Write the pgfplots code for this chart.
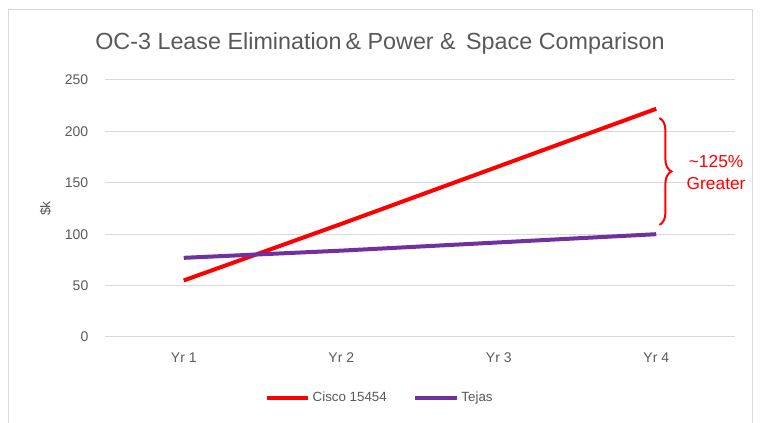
\documentclass[border=0pt]{standalone}
\usepackage{fontspec}
\setmainfont{Liberation Sans}
\usepackage{pgfplots}
\pgfplotsset{compat=1.18}
\usetikzlibrary{decorations.pathreplacing}
\definecolor{cisco}{HTML}{FF0000}
\definecolor{tejas}{HTML}{7030A0}
\definecolor{gridc}{HTML}{D9D9D9}
\definecolor{txt}{HTML}{595959}
\begin{document}
\begin{tikzpicture}
\path[use as bounding box] (0,0) rectangle (570pt,317.25pt);
\draw[gridc, line width=0.75pt] (6pt,-1pt) -- (6pt,309.75pt) -- (564pt,309.75pt) -- (564pt,-1pt);
\node[txt, font=\fontsize{17.5}{20}\selectfont] at (285pt,284.5pt) {OC-3 Lease Elimination\,\& Power \&\, Space Comparison};
\begin{axis}[
  at={(78.75pt,64.5pt)}, anchor=south west,
  scale only axis, width=472.5pt, height=192.75pt,
  xmin=0.5, xmax=4.5, ymin=0, ymax=250,
  xtick={1,2,3,4}, xticklabels={Yr 1,Yr 2,Yr 3,Yr 4},
  ytick={0,50,100,150,200,250},
  axis line style={draw=none},
  major tick style={draw=none},
  ymajorgrids, grid style={gridc, line width=0.75pt},
  tick label style={txt, font=\fontsize{10.5}{12}\selectfont},
  /pgf/number format/assume math mode=true,
  xticklabel style={yshift=-8pt},
  yticklabel style={xshift=-9pt},
  ylabel={\$k},
  ylabel style={txt, font=\fontsize{10.5}{12}\selectfont, at={(axis description cs:-0.094,0.5)}, anchor=center, rotate=0},
  clip=false,
  legend columns=2,
  legend style={draw=none, at={(axis description cs:0.4365,-0.237)}, anchor=center,
    font=\fontsize{10}{12}\selectfont, text=txt, /tikz/every even column/.append style={column sep=18pt}},
  legend image code/.code={\draw[#1] (0pt,0pt) -- (31pt,0pt);},
]
\addplot[cisco, line width=3pt] coordinates {(1,55) (2,110) (3,166) (4,222)};
\addlegendentry{Cisco 15454}
\addplot[tejas, line width=3pt] coordinates {(1,77) (2,84) (3,92) (4,100)};
\addlegendentry{Tejas}
\draw[cisco, line width=1.5pt, decorate, decoration={brace, amplitude=9pt}] (axis cs:4.02,213) -- (axis cs:4.02,109);
\node[cisco, font=\fontsize{13}{16}\selectfont, align=center] at (axis cs:4.38,160) {\textasciitilde125\%\\Greater};
\end{axis}
\end{tikzpicture}
\end{document}
